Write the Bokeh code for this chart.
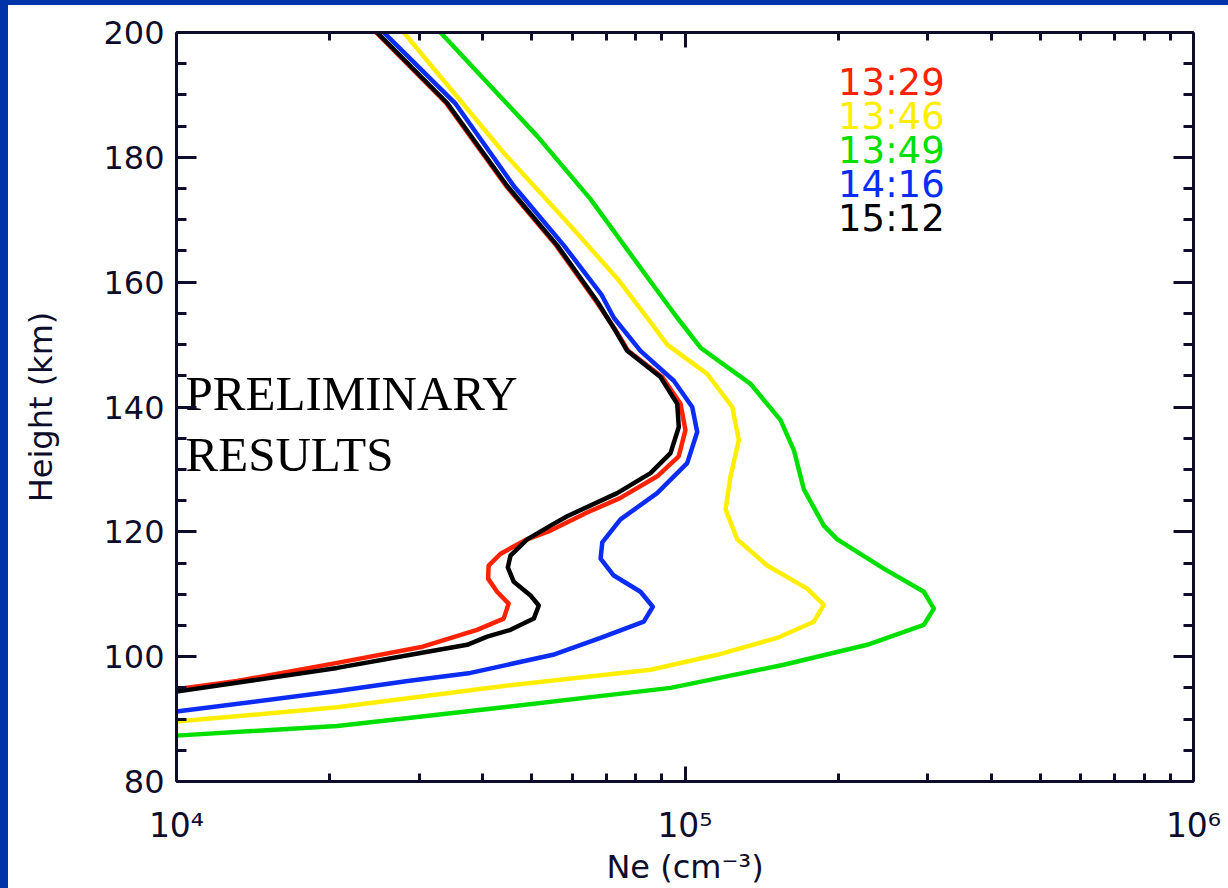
from bokeh.plotting import figure
from bokeh.models import FixedTicker, LinearAxis, LogAxis, Range1d
from bokeh.core.properties import value
from bokeh.embed import file_html
from bokeh.resources import INLINE

# ---------------- data ----------------
times = ["13:29", "13:46", "13:49", "14:16", "15:12"]
colors = ["#ff2200", "#ffee00", "#00e000", "#0a2cf5", "#000000"]

h_1329 = [200, 188.7, 175.4, 165.9, 156.9, 152.2, 149.0, 144.8, 140.5, 136.3, 132.1, 128.9,
          125.4, 123.1, 120.2, 118.8, 116.5, 114.6, 112.5, 110.4, 108.5, 106.1, 104.3, 101.6,
          99.0, 96.1, 94.8]
ne_1329 = [24700, 33900, 44500, 55800, 66900, 73200, 77300, 90200, 98000, 100200, 97200, 88200,
           74500, 64200, 54400, 48900, 43400, 41100, 41000, 42700, 45000, 44000, 39000, 30500,
           20700, 13160, 10000]

h_1346 = [200, 180.7, 170.2, 160.6, 154.3, 150.0, 145.3, 140.0, 134.7, 128.9, 123.6, 118.8,
          114.6, 110.9, 108.3, 105.6, 103.0, 100.3, 97.9, 95.3, 91.9, 89.6]
ne_1346 = [27990, 44030, 57770, 73570, 84270, 92250, 110580, 123850, 127620, 122910, 120170,
           126700, 145100, 173900, 187500, 179200, 151800, 115700, 85540, 44030, 20700, 10000]

h_1349 = [200, 183.4, 173.3, 160.1, 154.3, 149.5, 143.7, 137.9, 133.1, 126.8, 121.0, 118.8,
          114.1, 110.4, 107.7, 105.1, 101.9, 98.7, 95.0, 91.9, 88.9, 87.35]
ne_1349 = [33050, 51210, 65180, 85540, 96540, 107280, 134550, 154150, 163690, 171300, 187500,
           199300, 246000, 294900, 308600, 294900, 228300, 156400, 93650, 44030, 20700, 10000]

h_1416 = [200, 188.7, 175.4, 165.9, 158.0, 154.3, 149.0, 144.2, 140.0, 136.0, 131.0, 126.2,
          122.0, 118.3, 115.7, 113.0, 110.4, 108.0, 105.6, 103.0, 100.3, 97.4, 96.1, 94.5, 91.2]
ne_1416 = [25570, 35300, 46060, 57770, 68500, 72440, 81740, 95060, 103320, 105680, 101000,
           88150, 74670, 68760, 68230, 72440, 81740, 86440, 82980, 68230, 55000, 37860, 28500,
           20700, 10000]

h_1512 = [200, 188.7, 175.4, 165.9, 156.9, 152.2, 149.0, 144.8, 140.5, 136.8, 132.6, 129.4,
          126.2, 122.5, 121.0, 118.8, 116.2, 114.3, 112.0, 109.8, 108.2, 106.1, 104.3, 103.2,
          101.9, 100.6, 98.2, 94.4]
ne_1512 = [24800, 34060, 44710, 56070, 67220, 73000, 76970, 89490, 96540, 97230, 93650, 85540,
           73570, 58660, 54390, 48930, 45380, 44830, 46060, 49680, 51580, 50430, 45380, 40830,
           37300, 30180, 20700, 10000]

y_major = [80, 100, 120, 140, 160, 180, 200]
y_minor = [80, 85, 90, 95, 100, 105, 110, 115, 120, 125, 130, 135, 140, 145, 150, 155, 160,
           165, 170, 175, 180, 185, 190, 195, 200]
x_major = [1e4, 1e5, 1e6]
x_labels = ["10\u2074", "10\u2075", "10\u2076"]
x_minor = [2e4, 3e4, 4e4, 5e4, 6e4, 7e4, 8e4, 9e4, 2e5, 3e5, 4e5, 5e5, 6e5, 7e5, 8e5, 9e5]
notes = ["PRELIMINARY", "RESULTS"]

heights = [h_1329, h_1346, h_1349, h_1416, h_1512]
densities = [ne_1329, ne_1346, ne_1349, ne_1416, ne_1512]

# ---------------- figure ----------------
AX = "#0d0d2b"
SANS = "DejaVu Sans"

p = figure(width=1228, height=888, x_axis_type="log",
           x_range=Range1d(1e4, 1e6), y_range=Range1d(80, 200),
           output_backend="svg", toolbar_location=None,
           min_border_left=176, min_border_right=35, min_border_top=32, min_border_bottom=100)
p.background_fill_color = "white"
p.border_fill_color = None
p.outline_line_color = None
p.xgrid.visible = False
p.ygrid.visible = False
p.styles = {"background-color": "white", "box-shadow": "inset 8px 5px 0 0 #0033aa"}

xt = FixedTicker(ticks=x_major, minor_ticks=x_minor)
yt = FixedTicker(ticks=y_major, minor_ticks=y_minor)

def style_axis(ax, major_in, minor_in):
    ax.axis_line_color = AX
    ax.axis_line_width = 3
    ax.major_tick_line_color = AX
    ax.major_tick_line_width = 3
    ax.minor_tick_line_color = AX
    ax.minor_tick_line_width = 3
    ax.major_tick_in = major_in
    ax.major_tick_out = 0
    ax.minor_tick_in = minor_in
    ax.minor_tick_out = 0

def hide_labels(ax):
    ax.major_label_text_font_size = "2px"
    ax.major_label_text_alpha = 0
    ax.major_label_standoff = 0

# left axis
yl = p.yaxis[0]
yl.ticker = yt
style_axis(yl, 20, 10)
yl.major_label_text_font = SANS
yl.major_label_text_font_size = "32px"
yl.major_label_text_color = AX
yl.major_label_standoff = 12
yl.axis_label = "Height (km)"
yl.axis_label_text_font = SANS
yl.axis_label_text_font_size = "32px"
yl.axis_label_text_font_style = "normal"
yl.axis_label_text_color = AX
yl.axis_label_standoff = 40

# bottom axis
xb = p.xaxis[0]
xb.ticker = xt
style_axis(xb, 15, 8)
xb.major_label_overrides = dict(zip(x_major, x_labels))
xb.major_label_text_font = SANS
xb.major_label_text_font_size = "33px"
xb.major_label_text_color = AX
xb.major_label_standoff = 24
xb.axis_label = "Ne (cm\u207b\u00b3)"
xb.axis_label_text_font = SANS
xb.axis_label_text_font_size = "32px"
xb.axis_label_text_font_style = "normal"
xb.axis_label_text_color = AX
xb.axis_label_standoff = 0

# top / right axes (ticks only)
xtop = LogAxis(ticker=xt)
style_axis(xtop, 15, 8)
hide_labels(xtop)
p.add_layout(xtop, "above")

yr = LinearAxis(ticker=yt)
style_axis(yr, 20, 10)
hide_labels(yr)
p.add_layout(yr, "right")

# profiles
for hh, nn, c in zip(heights, densities, colors):
    p.line(nn, hh, line_color=c, line_width=4.5, line_join="round", line_cap="round")

# time legend
leg_y = [192.06 - 5.48 * i for i in range(len(times))]
p.text(x=[2.0e5] * len(times), y=leg_y, text=times, text_color=colors,
       text_font=value(SANS), text_font_size="37px",
       text_align="left", text_baseline="alphabetic")

# preliminary note
p.text(x=[10420] * len(notes), y=[142.1, 132.4], text=notes, text_color="black",
       text_font=value("Liberation Serif"), text_font_size="49px",
       text_align="left", text_baseline="alphabetic")

open("out.html", "w").write(file_html(p, INLINE))
